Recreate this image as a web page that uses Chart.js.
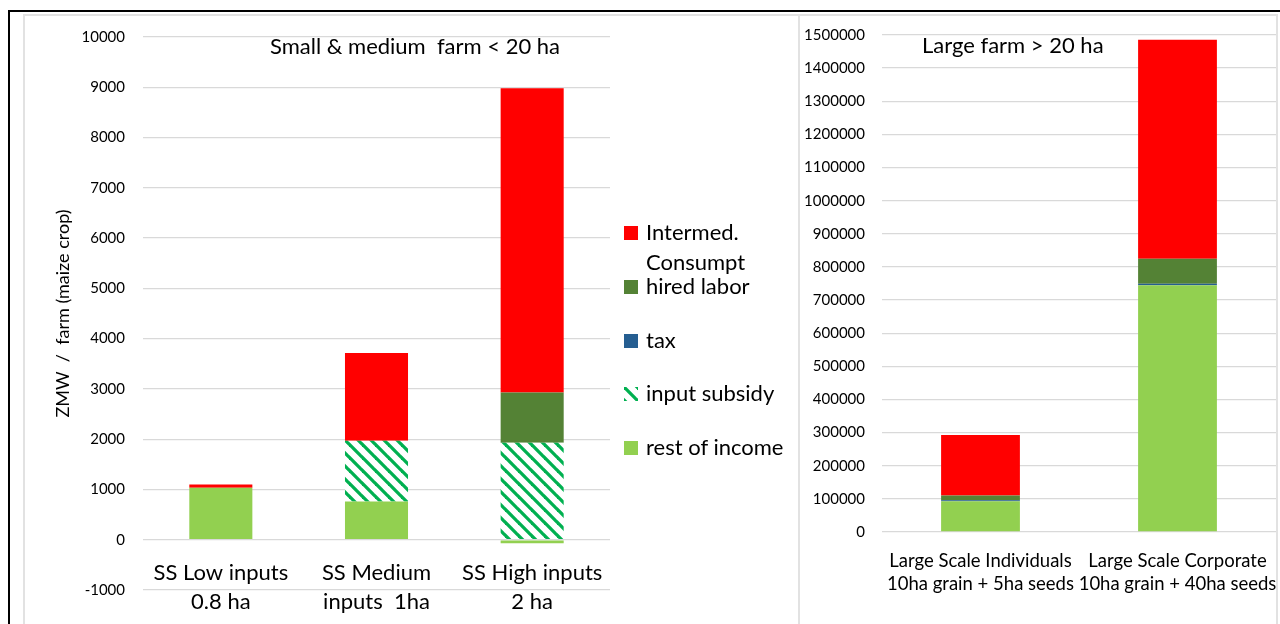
<!DOCTYPE html>
<html lang="en">
<head>
    <meta charset="UTF-8">
    <title>ZMW per farm (maize crop)</title>
    <style>
        body {
            margin: 0;
            background: #fff;
            font-family: Lato, sans-serif;
        }

        #page {
            position: relative;
            width: 1280px;
            height: 624px;
            overflow: hidden;
        }

        #frame {
            position: absolute;
            left: 8px;
            top: 10px;
            width: 1300px;
            height: 700px;
            border-top: 2px solid #000;
            border-left: 2px solid #000;
        }

        .panel {
            position: absolute;
            top: 14px;
            height: 700px;
            border: 2px solid #e2e2e2;
            box-sizing: border-box;
        }

        canvas {
            position: absolute;
            top: 15px;
        }

        .title {
            position: absolute;
            font-size: 22px;
            line-height: 24px;
            color: #000;
            white-space: pre;
        }

        .legend-item {
            position: absolute;
            left: 624px;
            font-size: 22px;
            line-height: 30px;
            color: #000;
        }

        .legend-item canvas {
            position: absolute;
            left: 0;
            top: 8px;
        }

        .legend-item span {
            position: absolute;
            left: 22px;
            top: -1px;
            white-space: pre;
        }
    </style>
</head>
<body>
<div id="page">
    <div id="frame"></div>
    <div class="panel" style="left: 23px; width: 777px;"></div>
    <div class="panel" style="left: 798px; width: 480px;"></div>
    <canvas id="small-chart" width="774" height="609" style="left: 24px"></canvas>
    <canvas id="large-chart" width="480" height="609" style="left: 800px"></canvas>
    <div class="title" style="left: 270px; top: 34px;">Small &amp; medium  farm &lt; 20 ha</div>
    <div class="title" style="left: 922px; top: 33px;">Large farm &gt; 20 ha</div>
    <div id="legend"></div>
</div>
<script src="https://cdn.jsdelivr.net/npm/chart.js@4.4.1/dist/chart.umd.min.js"></script>
<script>
    // categories
    const smallFarms = [["SS Low inputs", "0.8 ha"], ["SS Medium", "inputs  1ha"], ["SS High inputs", "2 ha"]];
    const largeFarms = [["Large Scale Individuals", "10ha grain + 5ha seeds"], ["Large Scale Corporate", "10ha grain + 40ha seeds"]];

    // series, stacked bottom to top
    const seriesNames = ["rest of income", "input subsidy", "tax", "hired labor", "Intermed.\nConsumpt"];

    const smallRest = [1035, 760, -70];
    const smallSubsidy = [0, 1210, 1930];
    const smallTax = [0, 0, 0];
    const smallLabor = [0, 0, 1000];
    const smallIntermed = [65, 1745, 6050];

    const largeRest = [93000, 745000];
    const largeSubsidy = [0, 0];
    const largeTax = [3000, 4000];
    const largeLabor = [14000, 76000];
    const largeIntermed = [183000, 661000];

    // axis ranges: min, max, step
    const smallAxis = [-1000, 10000, 1000];
    const largeAxis = [0, 1500000, 100000];

    function stripes() {
        const c = document.createElement("canvas");
        c.width = c.height = 13;
        const g = c.getContext("2d");
        g.fillStyle = "#fff";
        g.fillRect(0, 0, 13, 13);
        g.strokeStyle = "#00b050";
        g.lineWidth = 3.3;
        for (const k of [-13, 0, 13]) {
            g.beginPath();
            g.moveTo(k - 2, -2);
            g.lineTo(k + 15, 15);
            g.stroke();
        }
        return g.createPattern(c, "repeat");
    }

    const subsidyFill = stripes();
    const colors = ["#92d050", subsidyFill, "#255e91", "#548235", "#ff0000"];

    Chart.defaults.font.family = "Lato, sans-serif";
    Chart.defaults.color = "#000";

    function datasets(values, pct) {
        return values.map((v, i) => ({
            label: seriesNames[i],
            data: v,
            backgroundColor: colors[i],
            borderWidth: 0,
            barPercentage: pct,
            categoryPercentage: 1
        }));
    }

    // keep the plot area where the reference has it
    function fixX(h) {
        return s => {
            s.height = h;
            s.paddingLeft = 0;
            s.paddingRight = 0;
        };
    }

    function fixY(w) {
        return s => {
            s.width = w;
            s.paddingTop = 0;
            s.paddingBottom = 0;
        };
    }

    new Chart("small-chart", {
        type: "bar",
        data: {
            labels: smallFarms,
            datasets: datasets([smallRest, smallSubsidy, smallTax, smallLabor, smallIntermed], 0.405)
        },
        options: {
            responsive: false,
            animation: false,
            layout: {padding: {left: 28, top: 22, right: 188, bottom: 0}},
            plugins: {legend: {display: false}, tooltip: {enabled: false}},
            scales: {
                x: {
                    stacked: true,
                    grid: {display: false, drawTicks: false},
                    border: {display: false},
                    ticks: {
                        // labels sit over the bottom of the plot, as in the Excel original
                        mirror: true,
                        font: {size: 22, lineHeight: "29px"},
                        padding: 3,
                        maxRotation: 0,
                        minRotation: 0,
                        autoSkip: false
                    },
                    afterFit: fixX(34)
                },
                y: {
                    stacked: true,
                    min: smallAxis[0],
                    max: smallAxis[1],
                    ticks: {
                        stepSize: smallAxis[2],
                        font: {size: 15},
                        padding: 18,
                        callback: v => String(v)
                    },
                    grid: {color: "#d9d9d9", lineWidth: 1.3, drawTicks: false},
                    border: {display: false},
                    title: {
                        display: true,
                        text: "ZMW  /  farm (maize crop)",
                        font: {size: 18},
                        padding: {top: 0, bottom: 0}
                    },
                    afterFit: fixY(91)
                }
            }
        }
    });

    new Chart("large-chart", {
        type: "bar",
        data: {
            labels: largeFarms,
            datasets: datasets([largeRest, largeSubsidy, largeTax, largeLabor, largeIntermed], 0.4)
        },
        options: {
            responsive: false,
            animation: false,
            layout: {padding: {left: 0, top: 20, right: 4, bottom: 0}},
            plugins: {legend: {display: false}, tooltip: {enabled: false}},
            scales: {
                x: {
                    stacked: true,
                    grid: {display: false, drawTicks: false},
                    border: {display: false},
                    ticks: {
                        font: {size: 18.5, lineHeight: "23px"},
                        padding: 18,
                        maxRotation: 0,
                        minRotation: 0,
                        autoSkip: false
                    },
                    afterFit: fixX(92)
                },
                y: {
                    stacked: true,
                    min: largeAxis[0],
                    max: largeAxis[1],
                    ticks: {
                        stepSize: largeAxis[2],
                        font: {size: 15},
                        padding: 17,
                        callback: v => String(v)
                    },
                    grid: {color: "#d9d9d9", lineWidth: 1.3, drawTicks: false},
                    border: {display: false},
                    afterFit: fixY(82)
                }
            }
        }
    });

    // legend, top item first
    const legend = document.querySelector("#legend");
    for (let i = seriesNames.length - 1; i >= 0; i--) {
        const row = seriesNames.length - 1 - i;
        const item = document.createElement("div");
        item.className = "legend-item";
        item.style.top = (218 + row * 53.75) + "px";
        const box = document.createElement("canvas");
        box.width = box.height = 14;
        const g = box.getContext("2d");
        g.fillStyle = colors[i];
        g.fillRect(0, 0, 14, 14);
        const text = document.createElement("span");
        text.textContent = seriesNames[i];
        item.appendChild(box);
        item.appendChild(text);
        legend.appendChild(item);
    }
</script>
</body>
</html>
